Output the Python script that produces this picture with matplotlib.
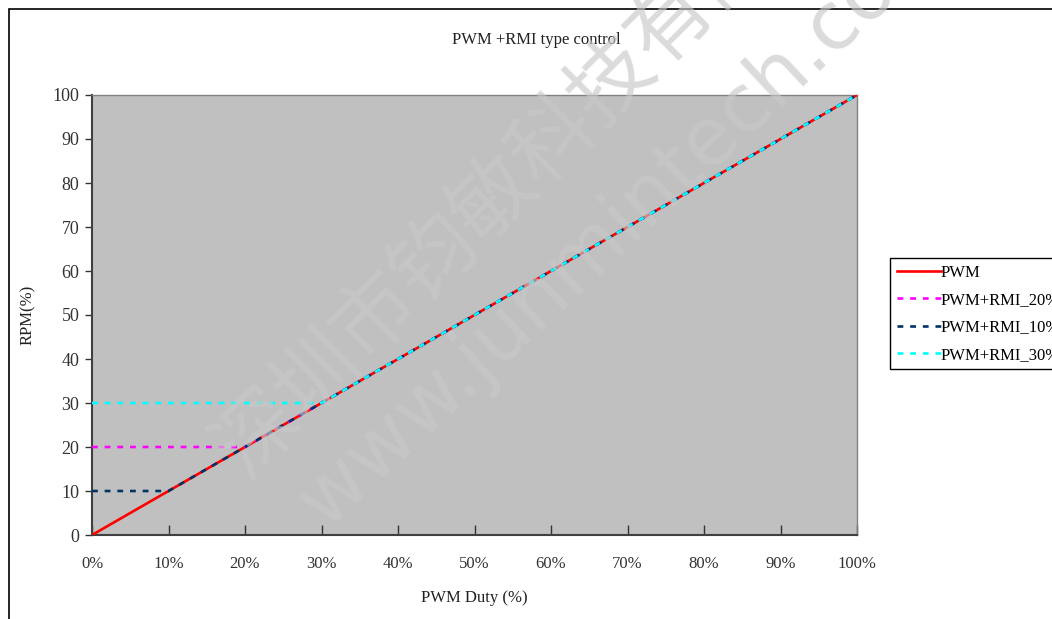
import matplotlib.pyplot as plt
from matplotlib.patches import Rectangle

plt.rcParams['font.family'] = ['Liberation Serif', 'DejaVu Serif']

# data (PWM duty % -> RPM %)
duty = [0, 10, 20, 30, 40, 50, 60, 70, 80, 90, 100]
rpm_pwm = [0, 10, 20, 30, 40, 50, 60, 70, 80, 90, 100]
rpm_rmi20 = [20, 20, 20, 30, 40, 50, 60, 70, 80, 90, 100]
rpm_rmi10 = [10, 10, 20, 30, 40, 50, 60, 70, 80, 90, 100]
rpm_rmi30 = [30, 30, 30, 30, 40, 50, 60, 70, 80, 90, 100]

x_ticks = [0, 10, 20, 30, 40, 50, 60, 70, 80, 90, 100]
x_tick_labels = ['0%', '10%', '20%', '30%', '40%', '50%', '60%', '70%', '80%', '90%', '100%']
y_ticks = [0, 10, 20, 30, 40, 50, 60, 70, 80, 90, 100]

W, H = 1052, 619
fig = plt.figure(figsize=(W / 100, H / 100), dpi=100)
ax = fig.add_axes([92 / W, 1 - 535 / H, (857 - 92) / W, (535 - 95) / H])
ax.set_facecolor('#c0c0c0')

lw = 1.9
dash = (0, (2.2, 2.6))
ax.plot(duty, rpm_pwm, color='#ff0000', lw=lw, label='PWM', zorder=3)
ax.plot(duty, rpm_rmi20, color='#ff00ff', lw=lw, ls=dash, label='PWM+RMI_20%', zorder=4)
ax.plot(duty, rpm_rmi10, color='#003366', lw=lw, ls=dash, label='PWM+RMI_10%', zorder=4)
ax.plot(duty, rpm_rmi30, color='#00ffff', lw=lw, ls=dash, label='PWM+RMI_30%', zorder=4)

ax.set_xlim(0, 100)
ax.set_ylim(0, 100)
ax.set_xticks(x_ticks)
ax.set_xticklabels(x_tick_labels)
ax.set_yticks(y_ticks)
ax.tick_params(axis='x', direction='in', length=7, width=1, pad=15, labelsize=12, colors='#333333')
ax.tick_params(axis='y', direction='out', length=5, width=1, pad=4, labelsize=13, colors='#333333')
for s in ['left', 'bottom']:
    ax.spines[s].set_color('#404040')
    ax.spines[s].set_linewidth(1.5)
for s in ['top', 'right']:
    ax.spines[s].set_color('#808080')
    ax.spines[s].set_linewidth(1)

ax.set_xlabel('PWM Duty (%)', fontsize=12, color='#222222', labelpad=13)
ax.set_ylabel('RPM(%)', fontsize=12, color='#222222', labelpad=12)
fig.text(536 / W, 1 - 40 / H, 'PWM +RMI type control', ha='center', va='center',
         fontsize=12, color='#222222')

leg = ax.legend(loc='upper left', bbox_to_anchor=(890 / W, 1 - 258 / H),
                bbox_transform=fig.transFigure, fontsize=12, frameon=True,
                fancybox=False, edgecolor='black', framealpha=1,
                handlelength=2.65, handletextpad=0.0, labelspacing=0.68,
                borderpad=0.4, borderaxespad=0)
leg.get_frame().set_linewidth(1)

# outer chart border (runs off the right and bottom edges)
fig.patches.append(Rectangle((9 / W, -0.1), 1.2, 1 - 9 / H + 0.1,
                             transform=fig.transFigure, fill=False,
                             edgecolor='black', lw=1.2))

# watermark
fig.text(554 / W, 1 - 139 / H, '深圳市钧敏科技有限公司', rotation=45,
         ha='center', va='center', fontsize=60, color='#c8c8c8', alpha=0.65,
         family=['Noto Sans CJK SC', 'DejaVu Sans'], zorder=10)
fig.text(627 / W, 1 - 218 / H, 'www.junmintech.com', rotation=43,
         ha='center', va='center', fontsize=58, color='#c8c8c8', alpha=0.65,
         family=['DejaVu Sans'], zorder=10)

fig.savefig('out.png', dpi=100)
